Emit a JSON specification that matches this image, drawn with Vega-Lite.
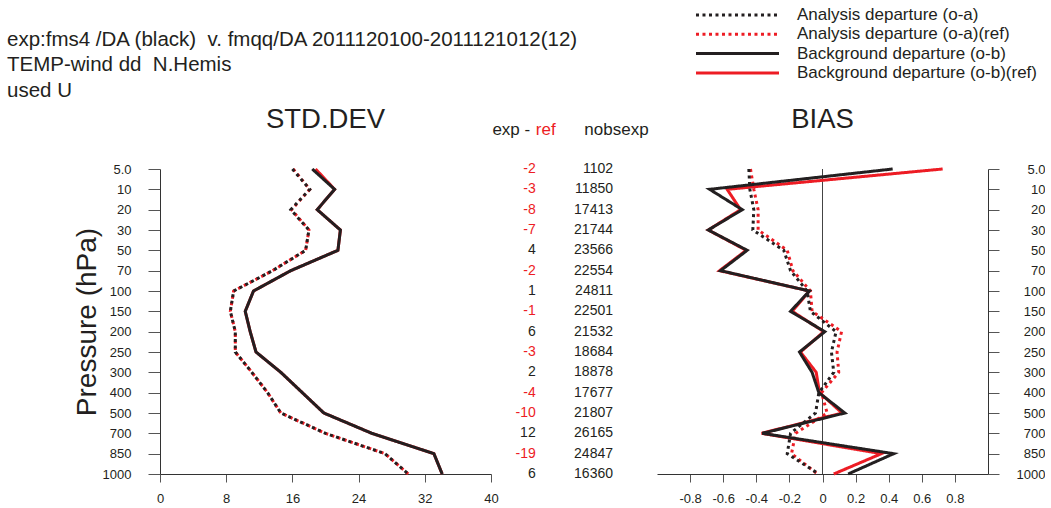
{
  "$schema": "https://vega.github.io/schema/vega-lite/v6.json",
  "padding": {"left": 7, "top": 6, "right": 0, "bottom": 0},
  "autosize": {"type": "pad"},
  "bounds": "flush",
  "spacing": 0,
  "title": {
    "text": ["exp:fms4 /DA (black) \u00a0v. fmqq/DA 2011120100-2011121012(12)", "TEMP-wind dd \u00a0N.Hemis", "used U"],
    "anchor": "start", "frame": "group", "fontSize": 20.5, "lineHeight": 25.5, "dx": -153, "dy": 104.5, "offset": 10,
    "color": "#231f20", "font": "Liberation Sans", "fontWeight": "normal"
  },
  "datasets": {
    "std": [
      {"p": 5, "Analysis departure (o-a)": 16.0, "Analysis departure (o-a)(ref)": 16.1, "Background departure (o-b)": 18.4, "Background departure (o-b)(ref)": 18.8},
      {"p": 10, "Analysis departure (o-a)": 18.1, "Analysis departure (o-a)(ref)": 18.1, "Background departure (o-b)": 21.1, "Background departure (o-b)(ref)": 21.1},
      {"p": 20, "Analysis departure (o-a)": 15.8, "Analysis departure (o-a)(ref)": 15.9, "Background departure (o-b)": 19.0, "Background departure (o-b)(ref)": 19.0},
      {"p": 30, "Analysis departure (o-a)": 18.0, "Analysis departure (o-a)(ref)": 18.0, "Background departure (o-b)": 21.8, "Background departure (o-b)(ref)": 21.8},
      {"p": 50, "Analysis departure (o-a)": 17.6, "Analysis departure (o-a)(ref)": 17.6, "Background departure (o-b)": 21.5, "Background departure (o-b)(ref)": 21.5},
      {"p": 70, "Analysis departure (o-a)": 13.6, "Analysis departure (o-a)(ref)": 13.6, "Background departure (o-b)": 15.8, "Background departure (o-b)(ref)": 15.8},
      {"p": 100, "Analysis departure (o-a)": 8.9, "Analysis departure (o-a)(ref)": 8.9, "Background departure (o-b)": 11.3, "Background departure (o-b)(ref)": 11.3},
      {"p": 150, "Analysis departure (o-a)": 8.5, "Analysis departure (o-a)(ref)": 8.5, "Background departure (o-b)": 10.3, "Background departure (o-b)(ref)": 10.3},
      {"p": 200, "Analysis departure (o-a)": 9.1, "Analysis departure (o-a)(ref)": 9.1, "Background departure (o-b)": 10.9, "Background departure (o-b)(ref)": 10.9},
      {"p": 250, "Analysis departure (o-a)": 9.1, "Analysis departure (o-a)(ref)": 9.1, "Background departure (o-b)": 11.6, "Background departure (o-b)(ref)": 11.6},
      {"p": 300, "Analysis departure (o-a)": 11.1, "Analysis departure (o-a)(ref)": 11.1, "Background departure (o-b)": 14.6, "Background departure (o-b)(ref)": 14.6},
      {"p": 400, "Analysis departure (o-a)": 13.0, "Analysis departure (o-a)(ref)": 13.0, "Background departure (o-b)": 17.2, "Background departure (o-b)(ref)": 17.2},
      {"p": 500, "Analysis departure (o-a)": 14.6, "Analysis departure (o-a)(ref)": 14.6, "Background departure (o-b)": 19.8, "Background departure (o-b)(ref)": 19.8},
      {"p": 700, "Analysis departure (o-a)": 20.0, "Analysis departure (o-a)(ref)": 20.0, "Background departure (o-b)": 25.6, "Background departure (o-b)(ref)": 25.6},
      {"p": 850, "Analysis departure (o-a)": 27.2, "Analysis departure (o-a)(ref)": 27.2, "Background departure (o-b)": 33.1, "Background departure (o-b)(ref)": 33.1},
      {"p": 1000, "Analysis departure (o-a)": 30.0, "Analysis departure (o-a)(ref)": 30.0, "Background departure (o-b)": 34.1, "Background departure (o-b)(ref)": 34.1}
    ],
    "bias": [
      {"p": 5, "Analysis departure (o-a)": -0.445, "Analysis departure (o-a)(ref)": -0.435, "Background departure (o-b)": 0.424, "Background departure (o-b)(ref)": 0.726},
      {"p": 10, "Analysis departure (o-a)": -0.439, "Analysis departure (o-a)(ref)": -0.415, "Background departure (o-b)": -0.682, "Background departure (o-b)(ref)": -0.576},
      {"p": 20, "Analysis departure (o-a)": -0.415, "Analysis departure (o-a)(ref)": -0.389, "Background departure (o-b)": -0.485, "Background departure (o-b)(ref)": -0.495},
      {"p": 30, "Analysis departure (o-a)": -0.421, "Analysis departure (o-a)(ref)": -0.389, "Background departure (o-b)": -0.69, "Background departure (o-b)(ref)": -0.69},
      {"p": 50, "Analysis departure (o-a)": -0.234, "Analysis departure (o-a)(ref)": -0.213, "Background departure (o-b)": -0.455, "Background departure (o-b)(ref)": -0.461},
      {"p": 70, "Analysis departure (o-a)": -0.193, "Analysis departure (o-a)(ref)": -0.179, "Background departure (o-b)": -0.616, "Background departure (o-b)(ref)": -0.622},
      {"p": 100, "Analysis departure (o-a)": -0.093, "Analysis departure (o-a)(ref)": -0.073, "Background departure (o-b)": -0.079, "Background departure (o-b)(ref)": -0.079},
      {"p": 150, "Analysis departure (o-a)": -0.073, "Analysis departure (o-a)(ref)": -0.063, "Background departure (o-b)": -0.193, "Background departure (o-b)(ref)": -0.183},
      {"p": 200, "Analysis departure (o-a)": 0.082, "Analysis departure (o-a)(ref)": 0.115, "Background departure (o-b)": 0.014, "Background departure (o-b)(ref)": 0.008},
      {"p": 250, "Analysis departure (o-a)": 0.054, "Analysis departure (o-a)(ref)": 0.088, "Background departure (o-b)": -0.139, "Background departure (o-b)(ref)": -0.133},
      {"p": 300, "Analysis departure (o-a)": 0.068, "Analysis departure (o-a)(ref)": 0.098, "Background departure (o-b)": -0.063, "Background departure (o-b)(ref)": -0.038},
      {"p": 400, "Analysis departure (o-a)": -0.022, "Analysis departure (o-a)(ref)": -0.006, "Background departure (o-b)": -0.022, "Background departure (o-b)(ref)": -0.018},
      {"p": 500, "Analysis departure (o-a)": -0.042, "Analysis departure (o-a)(ref)": 0.028, "Background departure (o-b)": 0.135, "Background departure (o-b)(ref)": 0.118},
      {"p": 700, "Analysis departure (o-a)": -0.193, "Analysis departure (o-a)(ref)": -0.163, "Background departure (o-b)": -0.364, "Background departure (o-b)(ref)": -0.368},
      {"p": 850, "Analysis departure (o-a)": -0.213, "Analysis departure (o-a)(ref)": -0.187, "Background departure (o-b)": 0.43, "Background departure (o-b)(ref)": 0.356},
      {"p": 1000, "Analysis departure (o-a)": -0.022, "Analysis departure (o-a)(ref)": -0.03, "Background departure (o-b)": 0.155, "Background departure (o-b)(ref)": 0.068}
    ],
    "counts": [
      {"p": 5, "d": -2, "n": 1102},
      {"p": 10, "d": -3, "n": 11850},
      {"p": 20, "d": -8, "n": 17413},
      {"p": 30, "d": -7, "n": 21744},
      {"p": 50, "d": 4, "n": 23566},
      {"p": 70, "d": -2, "n": 22554},
      {"p": 100, "d": 1, "n": 24811},
      {"p": 150, "d": -1, "n": 22501},
      {"p": 200, "d": 6, "n": 21532},
      {"p": 250, "d": -3, "n": 18684},
      {"p": 300, "d": 2, "n": 18878},
      {"p": 400, "d": -4, "n": 17677},
      {"p": 500, "d": -10, "n": 21807},
      {"p": 700, "d": 12, "n": 26165},
      {"p": 850, "d": -19, "n": 24847},
      {"p": 1000, "d": 6, "n": 16360}
    ]
  },
  "hconcat": [
    {
      "width": 331, "height": 305,
      "title": {"text": "STD.DEV", "fontSize": 27.5, "offset": 29.5},
      "data": {"name": "std"},
      "transform": [{"fold": ["Analysis departure (o-a)", "Analysis departure (o-a)(ref)", "Background departure (o-b)", "Background departure (o-b)(ref)"]}],
      "encoding": {
        "y": {"field": "p", "type": "ordinal",
          "scale": {"type": "point", "padding": 0, "domain": [5, 10, 20, 30, 50, 70, 100, 150, 200, 250, 300, 400, 500, 700, 850, 1000]},
          "axis": {"orient": "left", "title": "Pressure (hPa)", "titleFontSize": 28, "titleFontWeight": "normal", "titleColor": "#231f20", "titlePadding": 1,
            "tickSize": 12, "labelPadding": 17, "labelFontSize": 13, "labelExpr": "datum.value == 5 ? '5.0' : datum.label"}},
        "x": {"field": "value", "type": "quantitative", "scale": {"domain": [0, 40]},
          "axis": {"title": null, "values": [0, 8, 16, 24, 32, 40], "tickSize": 8, "labelPadding": 10, "labelFontSize": 13, "labelFlush": false}},
        "color": {"field": "key", "type": "nominal",
          "scale": {"domain": ["Analysis departure (o-a)", "Analysis departure (o-a)(ref)", "Background departure (o-b)", "Background departure (o-b)(ref)"], "range": ["#231f20", "#ed1c24", "#231f20", "#ed1c24"]},
          "legend": {"title": null, "orient": "none", "legendX": 536, "legendY": -162.5, "symbolType": "M-5.93,0H5.93", "symbolSize": 196, "symbolStrokeWidth": 3, "symbolOffset": 33, "labelOffset": 51, "rowPadding": 1.3, "padding": 0, "labelFontSize": 17, "labelColor": "#231f20", "labelLimit": 400}},
        "strokeDash": {"field": "key", "type": "nominal",
          "scale": {"domain": ["Analysis departure (o-a)", "Analysis departure (o-a)(ref)", "Background departure (o-b)", "Background departure (o-b)(ref)"], "range": [[3, 3.5], [3, 3.5], [1, 0], [1, 0]]},
          "legend": {"title": null, "orient": "none", "legendX": 536, "legendY": -162.5, "symbolType": "M-5.93,0H5.93", "symbolSize": 196, "symbolStrokeWidth": 3, "symbolOffset": 33, "labelOffset": 51, "rowPadding": 1.3, "padding": 0, "labelFontSize": 17, "labelColor": "#231f20", "labelLimit": 400}},
        "order": {"field": "p", "type": "quantitative"}
      },
      "layer": [
        {"transform": [{"filter": "indexof(datum.key, 'ref') >= 0"}], "mark": {"type": "line", "strokeWidth": 3}},
        {"transform": [{"filter": "indexof(datum.key, 'ref') < 0"}], "mark": {"type": "line", "strokeWidth": 3}}
      ]
    },
    {
      "width": 166, "height": 305,
      "data": {"name": "counts"},
      "encoding": {
        "y": {"field": "p", "type": "ordinal",
          "scale": {"type": "point", "padding": 0, "domain": [5, 10, 20, 30, 50, 70, 100, 150, 200, 250, 300, 400, 500, 700, 850, 1000]},
          "axis": null}
      },
      "layer": [
        {
          "mark": {"type": "text", "align": "right", "baseline": "middle", "fontSize": 14, "font": "Liberation Sans"},
          "encoding": {
            "x": {"datum": "diff", "type": "nominal",
              "scale": {"type": "point", "padding": 0, "domain": ["diff", "ref", "nobs"], "range": [44.7, 122]},
              "axis": {"orient": "top", "title": null, "domain": false, "ticks": false, "tickSize": 0, "labelPadding": 34.5, "labelAngle": 0,
                "labelBaseline": "alphabetic", "labelFontSize": 17, "labelOverlap": false, "labelBound": false,
                "labelExpr": "datum.value == 'diff' ? 'exp -' : datum.value == 'ref' ? 'ref' : 'nobsexp'",
                "labelColor": {"condition": {"test": "datum.value == 'ref'", "value": "#ed1c24"}, "value": "#231f20"},
                "labelAlign": {"condition": [{"test": "datum.value == 'diff'", "value": "right"}, {"test": "datum.value == 'ref'", "value": "left"}], "value": "center"},
                "labelOffset": {"condition": [{"test": "datum.value == 'diff'", "value": -6}, {"test": "datum.value == 'ref'", "value": -39}], "value": 3}}},
            "text": {"field": "d"},
            "color": {"condition": {"test": "datum.d < 0", "value": "#ed1c24"}, "value": "#231f20"}
          }
        },
        {
          "mark": {"type": "text", "align": "right", "baseline": "middle", "fontSize": 14, "font": "Liberation Sans", "color": "#231f20"},
          "encoding": {
            "x": {"datum": "nobs", "type": "nominal"},
            "text": {"field": "n"}
          }
        }
      ]
    },
    {
      "width": 331, "height": 305,
      "title": {"text": "BIAS", "fontSize": 27.5, "offset": 29.5},
      "layer": [
        {
          "data": {"values": [{}]},
          "mark": {"type": "rule", "color": "#444", "strokeWidth": 1},
          "encoding": {"x": {"datum": 0, "type": "quantitative"}}
        },
        {
          "data": {"name": "bias"},
          "transform": [{"fold": ["Analysis departure (o-a)", "Analysis departure (o-a)(ref)", "Background departure (o-b)", "Background departure (o-b)(ref)"]}],
          "encoding": {
            "y": {"field": "p", "type": "ordinal",
              "scale": {"type": "point", "padding": 0, "domain": [5, 10, 20, 30, 50, 70, 100, 150, 200, 250, 300, 400, 500, 700, 850, 1000]},
              "axis": {"orient": "right", "title": null, "tickSize": 11, "labelPadding": 46, "labelAlign": "right", "labelFontSize": 13, "labelExpr": "datum.value == 5 ? '5.0' : datum.label"}},
            "x": {"field": "value", "type": "quantitative", "scale": {"domain": [-1, 1]},
              "axis": {"title": null, "values": [-0.8, -0.6, -0.4, -0.2, 0, 0.2, 0.4, 0.6, 0.8], "tickSize": 8, "labelPadding": 10, "labelFontSize": 13, "labelFlush": false,
                "labelExpr": "toString(round(datum.value * 10) / 10)"}},
            "color": {"field": "key", "type": "nominal",
              "scale": {"domain": ["Analysis departure (o-a)", "Analysis departure (o-a)(ref)", "Background departure (o-b)", "Background departure (o-b)(ref)"], "range": ["#231f20", "#ed1c24", "#231f20", "#ed1c24"]},
              "legend": {"title": null, "orient": "none", "legendX": 536, "legendY": -162.5, "symbolType": "M-5.93,0H5.93", "symbolSize": 196, "symbolStrokeWidth": 3, "symbolOffset": 33, "labelOffset": 51, "rowPadding": 1.3, "padding": 0, "labelFontSize": 17, "labelColor": "#231f20", "labelLimit": 400}},
            "strokeDash": {"field": "key", "type": "nominal",
              "scale": {"domain": ["Analysis departure (o-a)", "Analysis departure (o-a)(ref)", "Background departure (o-b)", "Background departure (o-b)(ref)"], "range": [[3, 3.5], [3, 3.5], [1, 0], [1, 0]]},
              "legend": {"title": null, "orient": "none", "legendX": 536, "legendY": -162.5, "symbolType": "M-5.93,0H5.93", "symbolSize": 196, "symbolStrokeWidth": 3, "symbolOffset": 33, "labelOffset": 51, "rowPadding": 1.3, "padding": 0, "labelFontSize": 17, "labelColor": "#231f20", "labelLimit": 400}},
            "order": {"field": "p", "type": "quantitative"}
          },
          "layer": [
            {"transform": [{"filter": "indexof(datum.key, 'ref') >= 0"}], "mark": {"type": "line", "strokeWidth": 3}},
            {"transform": [{"filter": "indexof(datum.key, 'ref') < 0"}], "mark": {"type": "line", "strokeWidth": 3}}
          ]
        }
      ]
    }
  ],
  "config": {
    "font": "Liberation Sans",
    "view": {"stroke": null},
    "axis": {"grid": false, "labelColor": "#231f20", "domainColor": "#333333", "tickColor": "#555555", "labelFont": "Liberation Sans", "titleFont": "Liberation Sans"},
    "title": {"font": "Liberation Sans", "fontWeight": "normal", "color": "#231f20"},
    "legend": {"labelFont": "Liberation Sans"}
  }
}
